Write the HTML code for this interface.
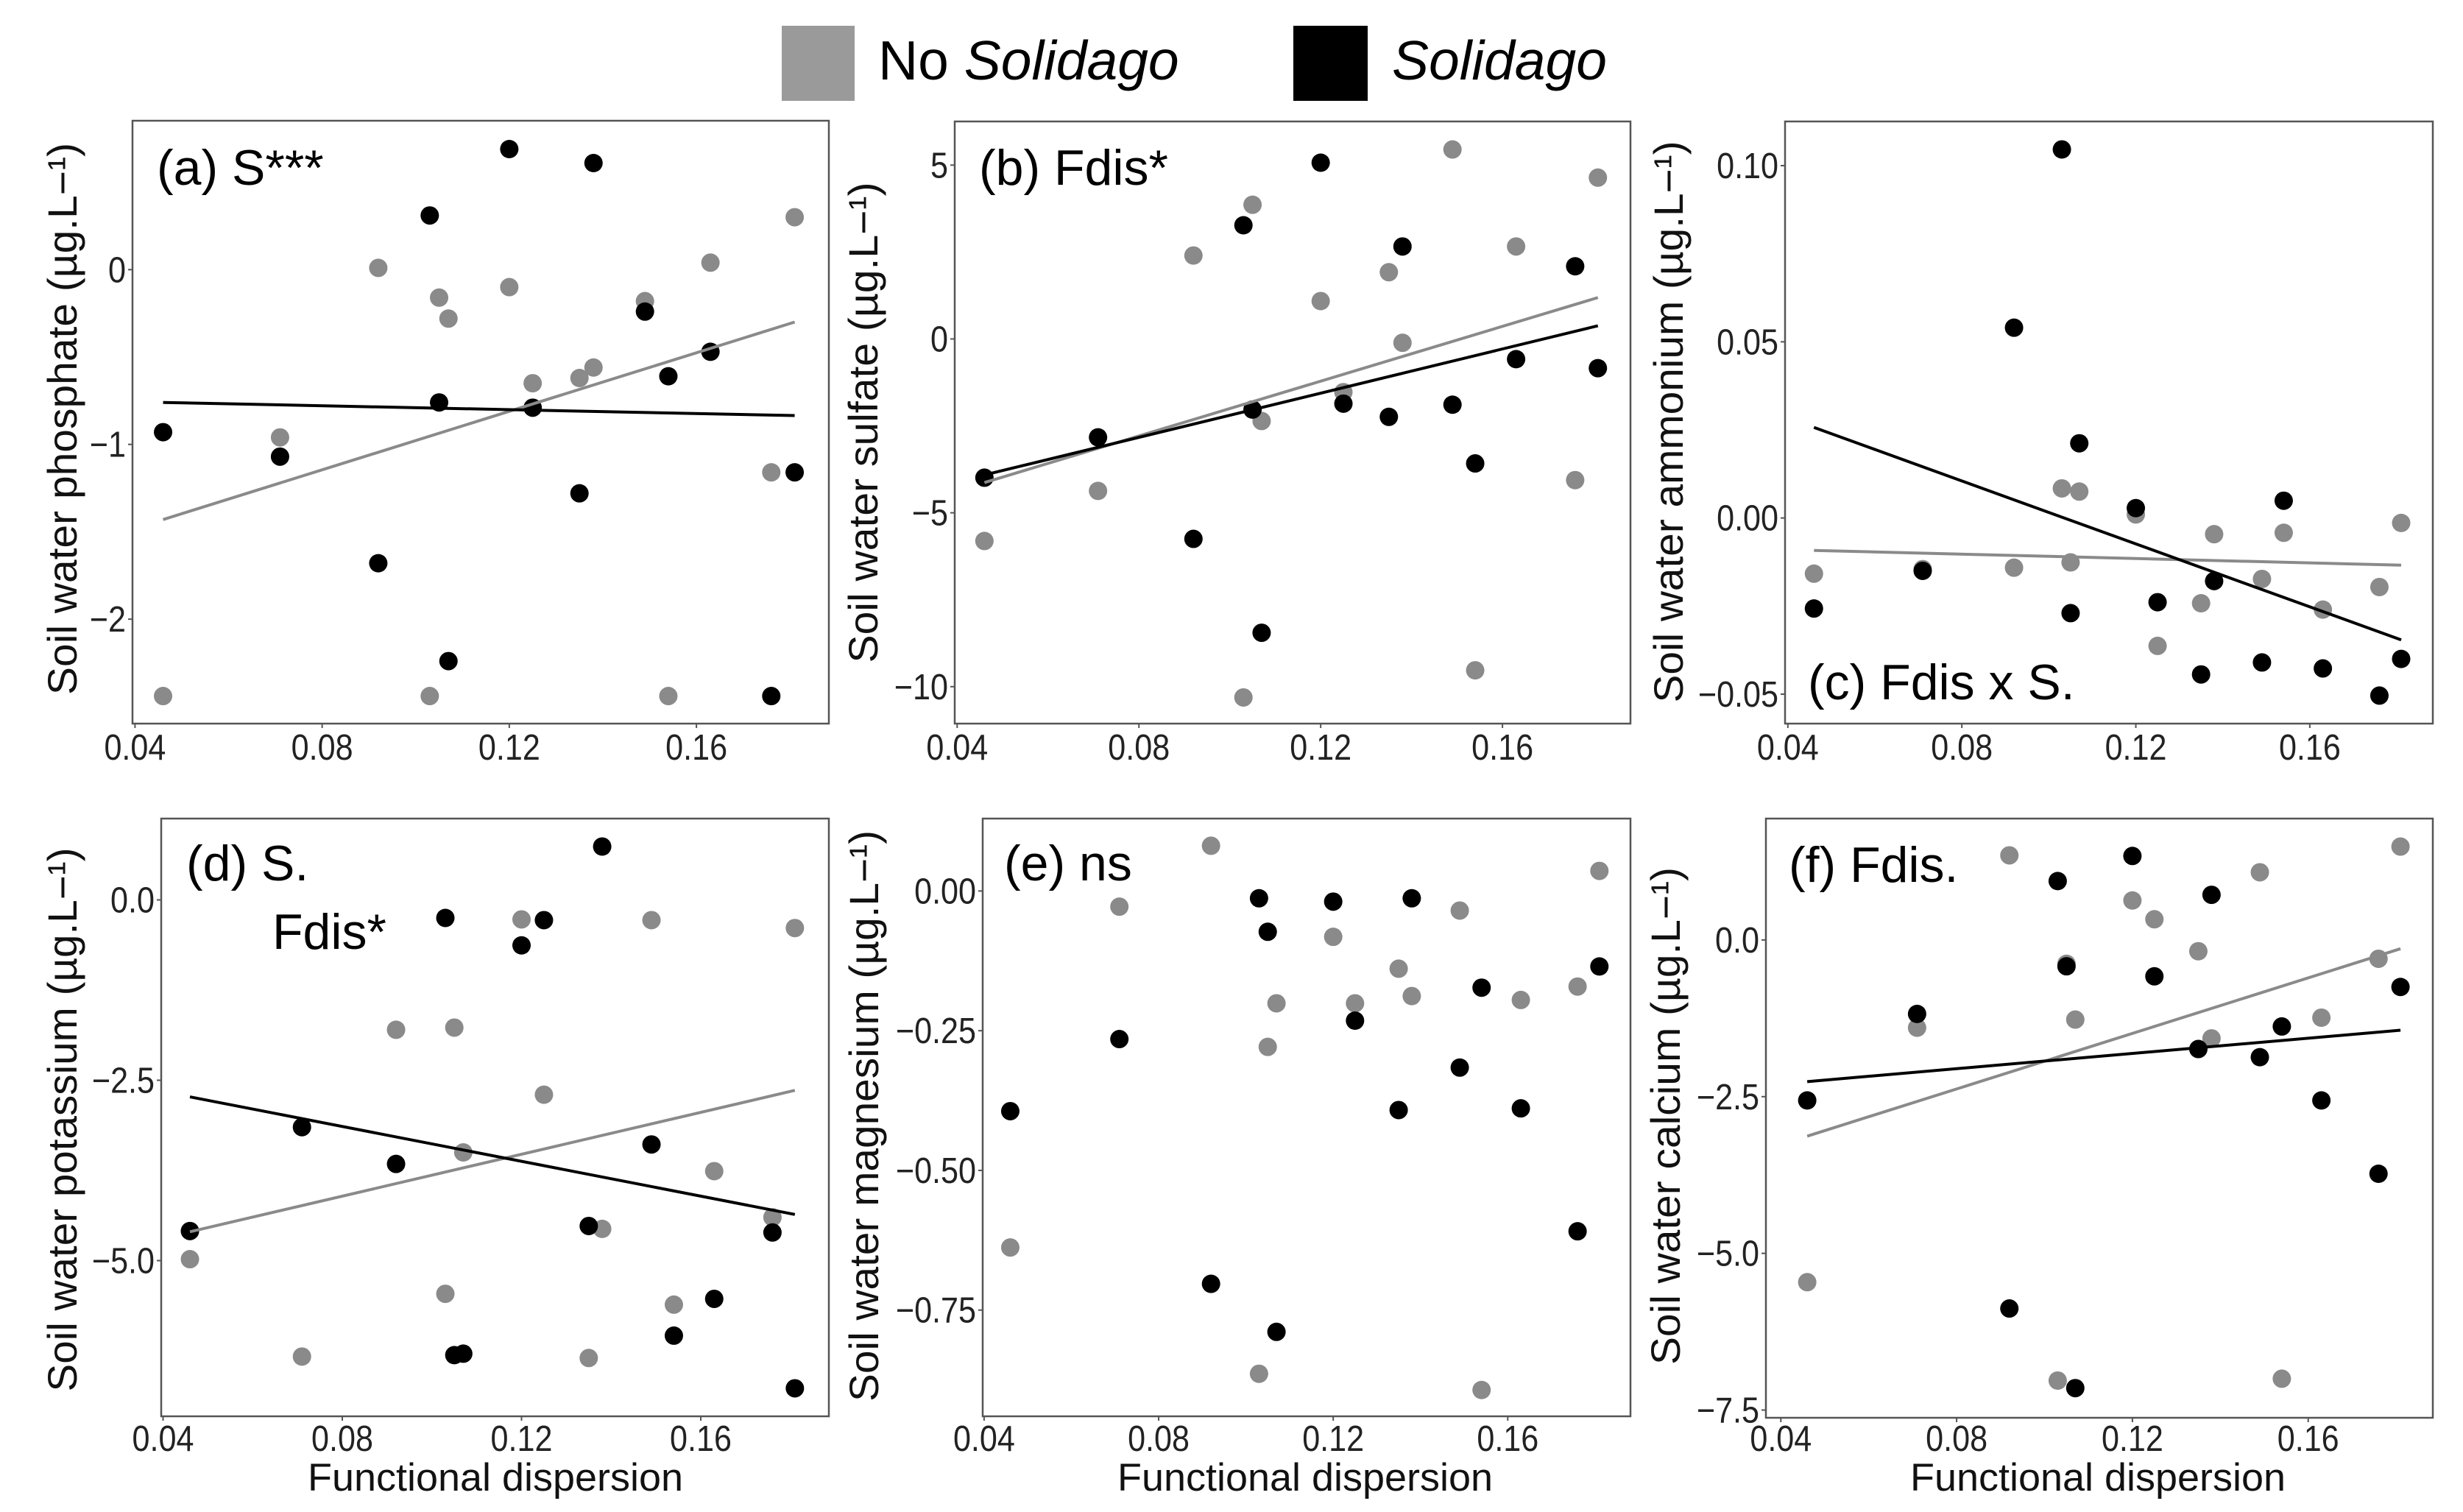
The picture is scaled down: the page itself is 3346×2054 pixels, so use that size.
<!DOCTYPE html>
<html><head><meta charset="utf-8"><style>
html,body{margin:0;padding:0;background:#fff;}
svg{display:block;font-family:"Liberation Sans",Arial,sans-serif;}
</style></head><body>
<svg id="fig" width="3346" height="2054" viewBox="0 0 3346 2054" xmlns="http://www.w3.org/2000/svg">
<rect x="0" y="0" width="3346" height="2054" fill="#fff"/>
<g>
  <rect x="1062" y="35" width="99" height="102" fill="#9a9a9a"/>
  <text x="1193" y="108" font-size="75" fill="#000">No <tspan font-style="italic">Solidago</tspan></text>
  <rect x="1757" y="35" width="101" height="102" fill="#000"/>
  <text x="1891" y="108" font-size="75" font-style="italic" fill="#000">Solidago</text>
</g>
</svg>
<script>
// shared x values (functional dispersion)
const xs = [0.046,0.071,0.092,0.103,0.105,0.107,0.120,0.125,0.135,0.138,0.149,0.154,0.163,0.176,0.181];
const xTicks = [0.04,0.08,0.12,0.16];
const xTickLabels = ["0.04","0.08","0.12","0.16"];

// (a) phosphate
const aNo  = [-2.44,-0.96,0.01,-2.44,-0.16,-0.28,-0.10,-0.65,-0.62,-0.56,-0.18,-2.44,0.04,-1.16,0.30];
const aSol = [-0.93,-1.07,-1.68,0.31,-0.76,-2.24,0.69,-0.79,-1.28,0.61,-0.24,-0.61,-0.47,-2.44,-1.16];
const aLineNo = [-1.43,-0.30];
const aLineSol = [-0.76,-0.835];
const aTicks = [0,-1,-2];
const aTickLabels = ["0","\u22121","\u22122"];
// (b) sulfate
const bNo  = [-5.81,-4.37,2.40,-10.31,3.86,-2.36,1.09,-1.53,1.92,-0.11,5.45,-9.53,2.66,-4.06,4.64];
const bSol = [-3.99,-2.83,-5.75,3.27,-2.03,-8.45,5.07,-1.86,-2.24,2.66,-1.89,-3.58,-0.58,2.09,-0.84];
const bLineNo = [-4.13,1.19];
const bLineSol = [-3.91,0.38];
const bTicks = [5,0,-5,-10];
const bTickLabels = ["5","0","\u22125","\u221210"];
// (c) ammonium
const cNo  = [-0.0158,-0.0145,-0.0141,0.0084,-0.0126,0.0075,0.001,-0.0363,-0.0242,-0.0046,-0.0173,-0.0042,-0.026,-0.0196,-0.0014];
const cSol = [-0.0257,-0.015,0.054,0.1046,-0.027,0.0212,0.0028,-0.0239,-0.0444,-0.0179,-0.041,0.0049,-0.0427,-0.0504,-0.040];
const cLineNo = [-0.0092,-0.0134];
const cLineSol = [0.0257,-0.0346];
const cTicks = [0.10,0.05,0.00,-0.05];
const cTickLabels = ["0.10","0.05","0.00","\u22120.05"];
// (d) potassium
const dNo  = [-4.98,-6.33,-1.80,-5.46,-1.77,-3.50,-0.27,-2.70,-6.35,-4.56,-0.28,-5.61,-3.76,-4.40,-0.39];
const dSol = [-4.59,-3.15,-3.66,-0.25,-6.31,-6.29,-0.63,-0.28,-4.52,0.74,-3.39,-6.04,-5.53,-4.61,-6.77];
const dLineNo = [-4.60,-2.64];
const dLineSol = [-2.73,-4.36];
const dTicks = [0,-2.5,-5];
const dTickLabels = ["0.0","\u22122.5","\u22125.0"];
// (e) magnesium
const eNo  = [-0.638,-0.028,0.081,-0.864,-0.279,-0.201,-0.082,-0.201,-0.139,-0.188,-0.035,-0.893,-0.195,-0.171,0.036];
const eSol = [-0.394,-0.265,-0.703,-0.013,-0.073,-0.789,-0.019,-0.232,-0.392,-0.013,-0.316,-0.173,-0.389,-0.609,-0.135];
const eTicks = [0,-0.25,-0.5,-0.75];
const eTickLabels = ["0.00","\u22120.25","\u22120.50","\u22120.75"];
// (f) calcium
const fNo  = [-5.46,-1.40,1.35,-7.03,-0.38,-1.27,0.63,0.33,-0.18,-1.57,1.08,-7.00,-1.24,-0.30,1.49];
const fSol = [-2.56,-1.18,-5.88,0.94,-0.42,-7.15,1.34,-0.58,-1.74,0.72,-1.87,-1.38,-2.56,-3.73,-0.75];
const fLineNo = [-3.13,-0.14];
const fLineSol = [-2.26,-1.44];
const fTicks = [0,-2.5,-5,-7.5];
const fTickLabels = ["0.0","\u22122.5","\u22125.0","\u22127.5"];

const NS = "http://www.w3.org/2000/svg";
const svg = document.getElementById("fig");
function mk(tag, attrs, parent){
  const e = document.createElementNS(NS, tag);
  for (const k in attrs) e.setAttribute(k, attrs[k]);
  (parent||svg).appendChild(e);
  return e;
}
const condensed = [];

const panels = [
 {id:"a", title:"Soil water phosphate", label:"(a) S***", no:aNo, sol:aSol, lNo:aLineNo, lSol:aLineSol, ticks:aTicks, tl:aTickLabels,
  box:[180,164,1126,983], xp:[183.4,946.1], yv:[0,-2], yp:[366.3,841.1], yl:[84,569,750], lab:[[213,251]], xlab:null, xtY:1032},
 {id:"b", title:"Soil water sulfate", label:"(b) Fdis*", no:bNo, sol:bSol, lNo:bLineNo, lSol:bLineSol, ticks:bTicks, tl:bTickLabels,
  box:[1297,165,2215,983], xp:[1300.3,2041.1], yv:[5,-10], yp:[224.3,932.8], yl:[1172,574,653], lab:[[1330,251]], xlab:null, xtY:1032},
 {id:"c", title:"Soil water ammonium", label:"(c) Fdis x S.", no:cNo, sol:cSol, lNo:cLineNo, lSol:cLineSol, ticks:cTicks, tl:cTickLabels,
  box:[2425,165,3305,983], xp:[2428.8,3137.9], yv:[0.10,-0.05], yp:[225,943], yl:[2266,573,763], lab:[[2456,950]], xlab:null, xtY:1032},
 {id:"d", title:"Soil water potassium", label:null, no:dNo, sol:dSol, lNo:dLineNo, lSol:dLineSol, ticks:dTicks, tl:dTickLabels,
  box:[219,1112,1126,1924], xp:[221.5,952], yv:[0,-5], yp:[1222.5,1712.5], yl:[84,1521,739], lab:null, xlab:673, xtY:1971},
 {id:"e", title:"Soil water magnesium", label:"(e) ns", no:eNo, sol:eSol, lNo:null, lSol:null, ticks:eTicks, tl:eTickLabels,
  box:[1335,1112,2215,1924], xp:[1336.9,2048.3], yv:[0,-0.75], yp:[1210.4,1779.7], yl:[1173,1516,776], lab:[[1364,1196]], xlab:1773, xtY:1971},
 {id:"f", title:"Soil water calcium", label:"(f) Fdis.", no:fNo, sol:fSol, lNo:fLineNo, lSol:fLineSol, ticks:fTicks, tl:fTickLabels,
  box:[2399,1112,3305,1926], xp:[2419.3,3135.7], yv:[0,-7.5], yp:[1276.9,1915.5], yl:[2262,1516,676], lab:[[2430,1198]], xlab:2850, xtY:1971}
];

panels.forEach(p => {
  const g = mk("g", {});
  
  
  const X = v => p.xp[0] + (v - 0.04) / 0.12 * (p.xp[1] - p.xp[0]);
  const Y = v => p.yp[0] + (v - p.yv[0]) / (p.yv[1] - p.yv[0]) * (p.yp[1] - p.yp[0]);
  const [L,T,R,B] = p.box;
  const frame = mk("rect", {x:L, y:T, width:R-L, height:B-T, fill:"#fff", stroke:"#555", "stroke-width":2.5}, g);
  
  
  // x ticks
  xTicks.forEach((t,i) => {
    const px = X(t);
    mk("line", {x1:px, x2:px, y1:B, y2:B+6, stroke:"#555", "stroke-width":2}, g);
    const tx = mk("text", {x:px, y:p.xtY, "font-size":49, "text-anchor":"middle", fill:"#222"}, g);
    tx.textContent = xTickLabels[i];
    
    
    condensed.push(tx);
  });
  // y ticks
  p.ticks.forEach((t,i) => {
    const py = Y(t);
    mk("line", {x1:L-6, x2:L, y1:py, y2:py, stroke:"#555", "stroke-width":2}, g);
    const tx = mk("text", {x:L-9, y:py+17, "font-size":49, "text-anchor":"end", fill:"#222"}, g);
    tx.textContent = p.tl[i];
    
    
    condensed.push(tx);
  });
  // y title
  const yt = mk("text", {x:0, y:0, "font-size":56, "text-anchor":"middle", fill:"#111",
     transform:`translate(${p.yl[0]+20},${p.yl[1]}) rotate(-90)`, textLength:p.yl[2], lengthAdjust:"spacingAndGlyphs"}, g);
  yt.textContent = p.title + " (\u00b5g.L\u2212\u00b9)";
  
  
  // x title
  if (p.xlab !== null) {
    const xt = mk("text", {x:p.xlab, y:2025, "font-size":53, "text-anchor":"middle", fill:"#111", textLength:510, lengthAdjust:"spacingAndGlyphs"}, g);
    xt.textContent = "Functional dispersion";
    
    
  }
  // points: no solidago first, then solidago
  xs.forEach((x,i) => {
    const c = mk("circle", {cx:X(x), cy:Y(p.no[i]), r:12.5, fill:"#8a8a8a"}, g);
    
    
  });
  xs.forEach((x,i) => {
    const c = mk("circle", {cx:X(x), cy:Y(p.sol[i]), r:12.5, fill:"#000"}, g);
    
    
  });
  // regression lines
  const x0 = xs[0], x1 = xs[xs.length-1];
  if (p.lNo) {
    const ln = mk("line", {x1:X(x0), y1:Y(p.lNo[0]), x2:X(x1), y2:Y(p.lNo[1]), stroke:"#8a8a8a", "stroke-width":4}, g);
    
    
  }
  if (p.lSol) {
    const ln = mk("line", {x1:X(x0), y1:Y(p.lSol[0]), x2:X(x1), y2:Y(p.lSol[1]), stroke:"#000", "stroke-width":4}, g);
    
    
  }
  // panel labels
  if (p.lab) {
    const lt = mk("text", {x:p.lab[0][0], y:p.lab[0][1], "font-size":68, fill:"#000"}, g);
    lt.textContent = p.label;
    
    
  }
  if (p.id === "d") {
    const lt = mk("text", {x:253, y:1196, "font-size":68, fill:"#000"}, g);
    lt.textContent = "(d) S.";
    
    
    const lt2 = mk("text", {x:370, y:1289, "font-size":68, fill:"#000"}, g);
    lt2.textContent = "Fdis*";
    
    
  }
});
// horizontally condense tick labels to match reference
condensed.forEach(t => {
  try {
    const w = t.getComputedTextLength();
    if (w > 0) { t.setAttribute("textLength", (w*0.88).toFixed(1)); t.setAttribute("lengthAdjust","spacingAndGlyphs"); }
  } catch(e) {}
});
</script>
</body></html>
